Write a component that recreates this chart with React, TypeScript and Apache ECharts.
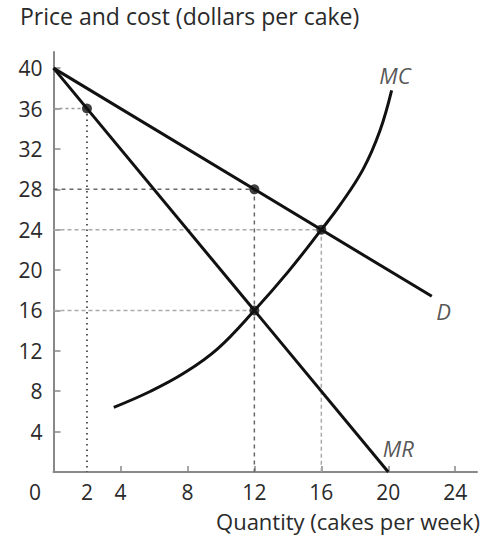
import React, { useEffect, useRef } from "react";
import * as echarts from "echarts";

const demand: [number, number][] = [[0, 40], [22.6, 17.4]];
const marginalRevenue: [number, number][] = [[0, 40], [20, 0]];
const marginalCost: [number, number][] = [
  [3.6, 6.4], [5.8, 8], [7.8, 9.8], [9.8, 12.2], [12, 16], [14, 19.8],
  [16, 24], [17.1, 26.4], [18.5, 30], [19.5, 33.8], [20.2, 37.8],
];
const points: [number, number][] = [[2, 36], [12, 28], [12, 16], [16, 24]];
const xTickValues = [4, 8, 12, 16, 20, 24];
const xLabelValues = [2, 4, 8, 12, 16, 20, 24];
const yTickValues = [4, 8, 12, 16, 20, 24, 28, 32, 36, 40];
const curveLabels: { name: string; at: [number, number] }[] = [
  { name: "D", at: [23.3, 15.9] },
  { name: "MC", at: [20.4, 39.3] },
  { name: "MR", at: [20.6, 2.4] },
];
const yTitle = "Price and cost (dollars per cake)";
const xTitle = "Quantity (cakes per week)";

const FONT = "'Open Sans', sans-serif";
const TEXT = "#2a2a2a";

export default function App() {
  const ref = useRef<HTMLDivElement>(null);
  useEffect(() => {
    if (!ref.current) return;
    const chart = echarts.init(ref.current, null, { renderer: "svg" });
    const guide = (data: [number, number][], color: string, type: any) => ({
      type: "line",
      data,
      symbol: "none",
      silent: true,
      lineStyle: { color, width: 1.5, type },
      z: 1,
    });
    const series: any[] = [];
    // guide lines
    series.push(guide([[0, 36], [2, 36]], "#9a9a9a", [3, 3]));
    series.push(guide([[2, 36], [2, 0]], "#222", [1.5, 4]));
    series.push(guide([[0, 28], [12, 28], [12, 0]], "#666", [4, 4]));
    series.push(guide([[0, 24], [16, 24]], "#aaa", [4, 3]));
    series.push(guide([[16, 24], [16, 0]], "#aaa", [4, 3]));
    series.push(guide([[0, 16], [12, 16]], "#aaa", [4, 3]));
    // curves
    series.push({
      type: "line", data: demand, symbol: "none",
      lineStyle: { color: "#111", width: 3 }, z: 3,
    });
    series.push({
      type: "line", data: marginalRevenue, symbol: "none",
      lineStyle: { color: "#111", width: 3 }, z: 3,
    });
    series.push({
      type: "line", data: marginalCost, symbol: "none", smooth: 0.4,
      lineStyle: { color: "#111", width: 3 }, z: 3,
    });
    series.push({
      type: "scatter", data: points, symbol: "circle", symbolSize: 10,
      itemStyle: { color: "#111" }, z: 4,
    });
    series.push({
      type: "scatter",
      data: curveLabels.map((c) => ({ value: c.at, name: c.name })),
      symbolSize: 0,
      label: {
        show: true, position: "inside", formatter: "{b}",
        fontFamily: FONT, fontSize: 22, fontStyle: "italic", color: TEXT,
      },
      z: 5,
    });

    chart.setOption({
      animation: false,
      backgroundColor: "#fff",
      grid: { left: 53.5, right: 6, top: 52, bottom: 71, containLabel: false },
      xAxis: {
        type: "value", min: 0, max: 25.3,
        axisLine: { lineStyle: { color: "#888", width: 2 } },
        axisTick: { show: true, inside: true, length: 6, customValues: xTickValues, lineStyle: { color: "#888", width: 1.5 } },
        axisLabel: { customValues: xLabelValues, margin: 9, fontFamily: FONT, fontSize: 21, color: TEXT },
        splitLine: { show: false },
      },
      yAxis: {
        type: "value", min: 0, max: 41.6,
        axisLine: { show: true, lineStyle: { color: "#888", width: 2 } },
        axisTick: { show: true, inside: true, length: 7, customValues: yTickValues, lineStyle: { color: "#888", width: 1.5 } },
        axisLabel: { customValues: yTickValues, margin: 11, fontFamily: FONT, fontSize: 21, color: TEXT },
        splitLine: { show: false },
      },
      graphic: [
        { type: "text", left: 20, top: 4, style: { text: yTitle, fontFamily: FONT, fontSize: 23, fill: TEXT } },
        { type: "text", right: 3, top: 510, style: { text: xTitle, fontFamily: FONT, fontSize: 22, fill: TEXT } },
        { type: "text", x: 35, y: 492, style: { text: "0", fontFamily: FONT, fontSize: 21, fill: TEXT, align: "center", verticalAlign: "middle" } },
      ],
      series,
    });
    return () => chart.dispose();
  }, []);
  return <div ref={ref} style={{ width: 483, height: 543, position: "absolute", left: 0, top: 0 }} />;
}
